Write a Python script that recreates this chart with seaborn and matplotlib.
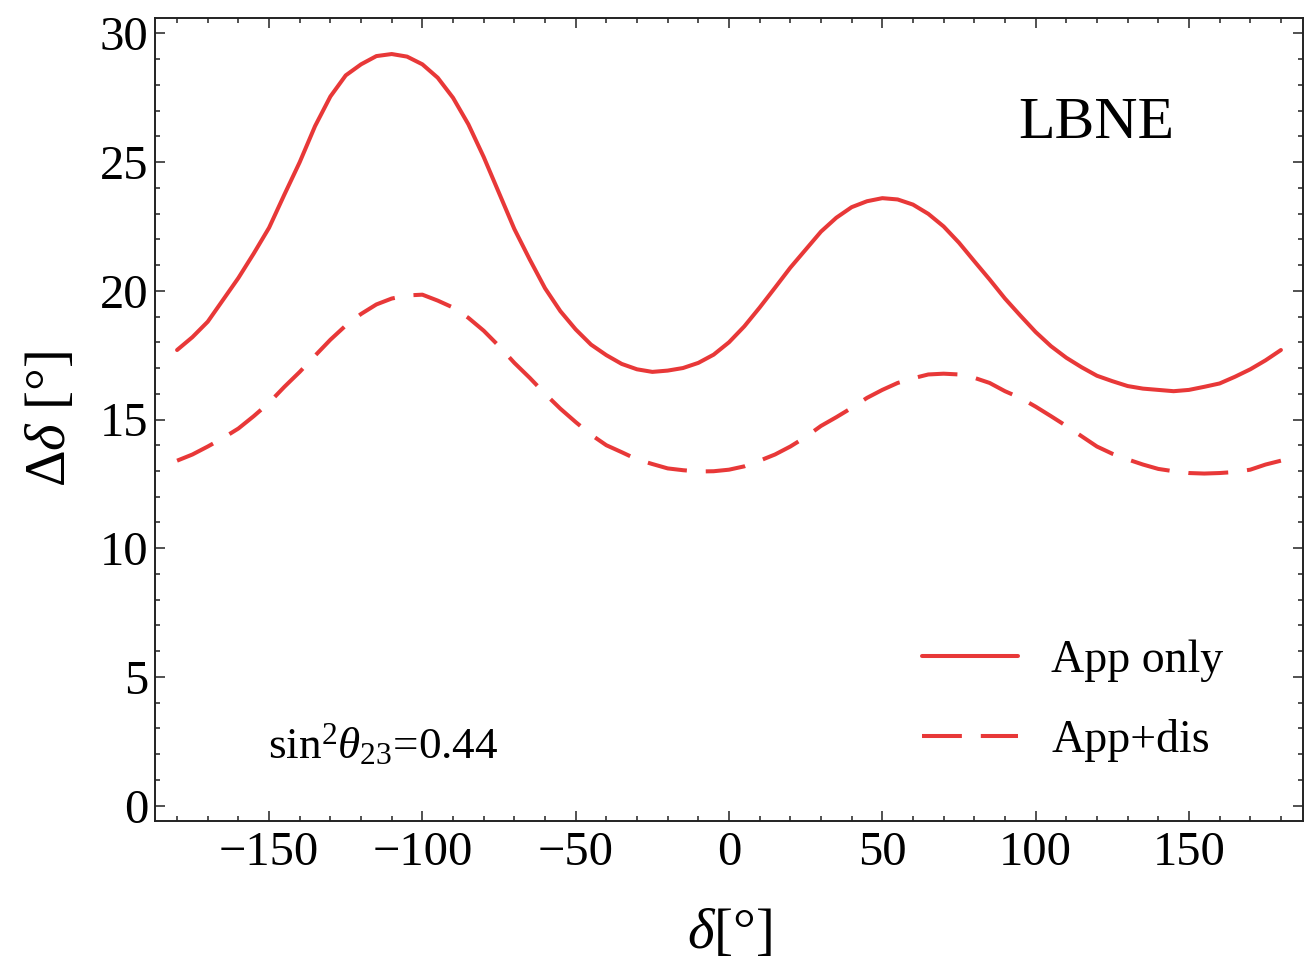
import numpy as np
import pandas as pd
import matplotlib
matplotlib.use("Agg")
import matplotlib.pyplot as plt
from matplotlib.ticker import MultipleLocator
import seaborn as sns

# ---- data, delta = -180 .. 180 step 5 ----
delta_deg = list(range(-180, 181, 5))
app_only = [
    17.7, 18.2, 18.8, 19.65, 20.5, 21.45, 22.45, 23.74, 25.0, 26.4,     # -180..-135
    27.55, 28.37, 28.8, 29.12, 29.2, 29.1, 28.8, 28.28, 27.5, 26.47,    # -130..-85
    25.2, 23.8, 22.4, 21.22, 20.1, 19.21, 18.5, 17.91, 17.5, 17.16,     # -80..-35
    16.95, 16.85, 16.9, 17.0, 17.2, 17.52, 18.0, 18.62, 19.35, 20.12,   # -30..15
    20.9, 21.6, 22.3, 22.84, 23.25, 23.48, 23.6, 23.55, 23.35, 22.99,   # 20..65
    22.5, 21.87, 21.15, 20.44, 19.7, 19.04, 18.4, 17.85, 17.4, 17.03,   # 70..115
    16.7, 16.49, 16.3, 16.2, 16.15, 16.1, 16.15, 16.27, 16.4, 16.66,    # 120..165
    16.95, 17.3, 17.7]                                                  # 170..180
app_dis = [
    13.4, 13.64, 13.95, 14.28, 14.65, 15.13, 15.65, 16.27, 16.85, 17.48,
    18.1, 18.65, 19.1, 19.47, 19.7, 19.82, 19.85, 19.62, 19.35, 18.95,
    18.45, 17.85, 17.2, 16.62, 16.0, 15.42, 14.9, 14.41, 14.0, 13.73,
    13.45, 13.27, 13.1, 13.03, 12.98, 12.99, 13.05, 13.18, 13.4, 13.64,
    13.95, 14.32, 14.75, 15.09, 15.45, 15.84, 16.15, 16.42, 16.6, 16.75,
    16.78, 16.75, 16.62, 16.42, 16.1, 15.84, 15.5, 15.13, 14.75, 14.35,
    13.95, 13.67, 13.45, 13.25, 13.08, 12.99, 12.92, 12.9, 12.92, 12.96,
    13.05, 13.25, 13.4]
series_labels = ["App only", "App+dis"]

sns.set_style("ticks")
plt.rcParams["font.family"] = ["Liberation Serif", "DejaVu Serif"]
plt.rcParams["mathtext.fontset"] = "custom"
plt.rcParams["mathtext.rm"] = "Liberation Serif"
plt.rcParams["mathtext.it"] = "Liberation Serif:italic"
plt.rcParams["mathtext.bf"] = "Liberation Serif:bold"
for k in ["text.color", "axes.labelcolor", "xtick.color", "ytick.color",
          "axes.edgecolor"]:
    plt.rcParams[k] = "black"

RED = "#E83838"

df1 = pd.DataFrame({"delta": delta_deg, "dd": app_only})
df2 = pd.DataFrame({"delta": delta_deg, "dd": app_dis})

fig = plt.figure(figsize=(13.12, 9.6), dpi=100)
ax = fig.add_axes([155/1312, 1-821/960, (1303-155)/1312, (821-18)/960])

sns.lineplot(data=df1, x="delta", y="dd", ax=ax, color=RED, lw=2.9,
             label=series_labels[0])
sns.lineplot(data=df2, x="delta", y="dd", ax=ax, color=RED, lw=2.9,
             linestyle=(0, (9.9, 4.7)), label=series_labels[1])

ax.set_xlim(-187.2, 187.2)
ax.set_ylim(-0.6, 30.6)
ax.xaxis.set_major_locator(MultipleLocator(50))
ax.xaxis.set_minor_locator(MultipleLocator(10))
ax.yaxis.set_major_locator(MultipleLocator(5))
ax.yaxis.set_minor_locator(MultipleLocator(1))
ax.tick_params(which="both", direction="in", top=True, right=True,
               width=1.1, color="#222222")
ax.tick_params(which="major", length=7.2, labelsize=35)
ax.tick_params(which="minor", length=3.6)
ax.tick_params(axis="x", which="major", pad=7)
ax.tick_params(axis="y", which="major", pad=5)
for s in ax.spines.values():
    s.set_linewidth(1.4)
    s.set_color("#222222")

ax.set_xlabel(r"$\delta$[°]", fontsize=41)
ax.set_ylabel(r"$\Delta\delta$ [°]", fontsize=41)
ax.xaxis.set_label_coords(0.5, -0.108)
ax.yaxis.set_label_coords(-0.068, 0.5)

ax.text(0.8197, 0.8506, "LBNE", transform=ax.transAxes, fontsize=43,
        ha="center", va="baseline")
ax.text(0.0984, 0.078, r"sin$^2\theta_{23}$=0.44", transform=ax.transAxes,
        fontsize=32.5, ha="left", va="baseline")

ax.legend(loc="center left", bbox_to_anchor=(0.668, 0.1498), frameon=False,
          fontsize=33, handlelength=2.1, handletextpad=0.72,
          labelspacing=0.82, borderpad=0, borderaxespad=0)

fig.savefig("out.png", dpi=100)
